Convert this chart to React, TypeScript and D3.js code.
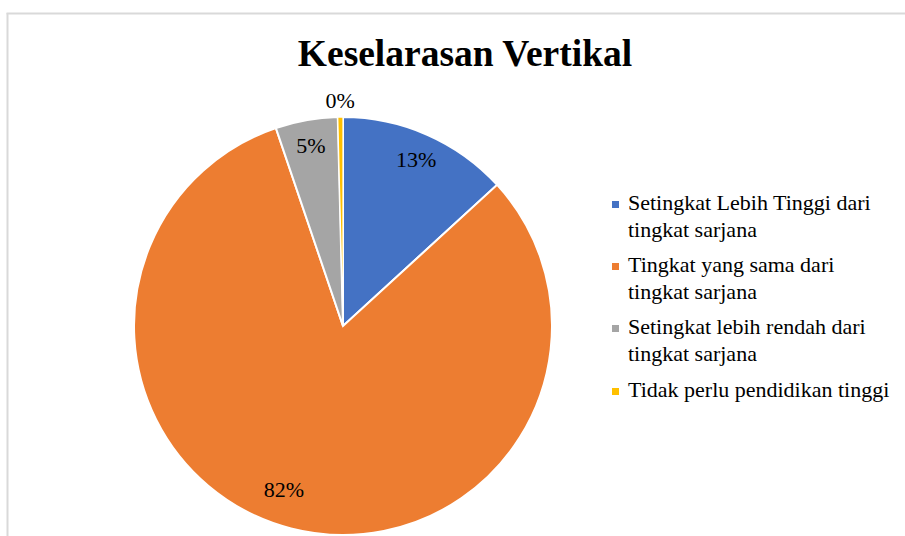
import React from "react";
import * as d3 from "d3";

const categories = [
  "Setingkat Lebih Tinggi dari tingkat sarjana",
  "Tingkat yang sama dari tingkat sarjana",
  "Setingkat lebih rendah dari tingkat sarjana",
  "Tidak perlu pendidikan tinggi",
];
const legendLines = [
  ["Setingkat Lebih Tinggi dari", "tingkat sarjana"],
  ["Tingkat yang sama dari", "tingkat sarjana"],
  ["Setingkat lebih rendah dari", "tingkat sarjana"],
  ["Tidak perlu pendidikan tinggi"],
];
const values = [13.2, 81.6, 4.8, 0.4];
const percentLabels = ["13%", "82%", "5%", "0%"];
const colors = ["#4472C4", "#ED7D31", "#A5A5A5", "#FFC000"];
const title = "Keselarasan Vertikal";

export default function App() {
  const W = 905, H = 536;
  const cx = 343, cy = 326, r = 209;
  const pie = d3.pie<number>().sort(null).value((d) => d)(values);
  const arc = d3.arc<d3.PieArcDatum<number>>().innerRadius(0).outerRadius(r);
  const labelFactors = [0.87, 0.83, 0.88, 1.08];
  const labelAngleShift = [0, 5.5, 0, 0];
  const font = "'Liberation Serif', 'Times New Roman', serif";
  const legendY = [210, 272, 334, 397];
  return (
    <svg width={W} height={H} style={{ position: "absolute", left: 0, top: 0, background: "#fff" }}>
      <rect x={0} y={0} width={W} height={H} fill="#fff" />
      <line x1={7.5} y1={13} x2={7.5} y2={H} stroke="#d9d9d9" strokeWidth={2} />
      <line x1={6.5} y1={13.5} x2={W} y2={13.5} stroke="#d9d9d9" strokeWidth={2} />
      <text x={465} y={66} textAnchor="middle" fontFamily={font} fontWeight="bold" fontSize={37.5} fill="#000">
        {title}
      </text>
      <g transform={`translate(${cx},${cy})`}>
        {pie.map((p, i) => (
          <path key={categories[i]} d={arc(p) || ""} fill={colors[i]} stroke="#fff" strokeWidth={i === 3 ? 1.2 : 2} />
        ))}
        {pie.map((p, i) => {
          const a = (p.startAngle + p.endAngle) / 2 + (labelAngleShift[i] * Math.PI) / 180;
          const d = r * labelFactors[i];
          const x = Math.sin(a) * d;
          const y = -Math.cos(a) * d;
          return (
            <text key={"l" + i} x={x} y={y} dy="0.35em" textAnchor="middle" fontFamily={font} fontSize={22} fill="#000">
              {percentLabels[i]}
            </text>
          );
        })}
      </g>
      {legendLines.map((lines, i) => (
        <g key={"lg" + i}>
          <rect x={612} y={legendY[i] - 9} width={7} height={7} fill={colors[i]} />
          {lines.map((t, j) => (
            <text key={j} x={628} y={legendY[i] + j * 27} fontFamily={font} fontSize={22} fill="#000">
              {t}
            </text>
          ))}
        </g>
      ))}
    </svg>
  );
}
